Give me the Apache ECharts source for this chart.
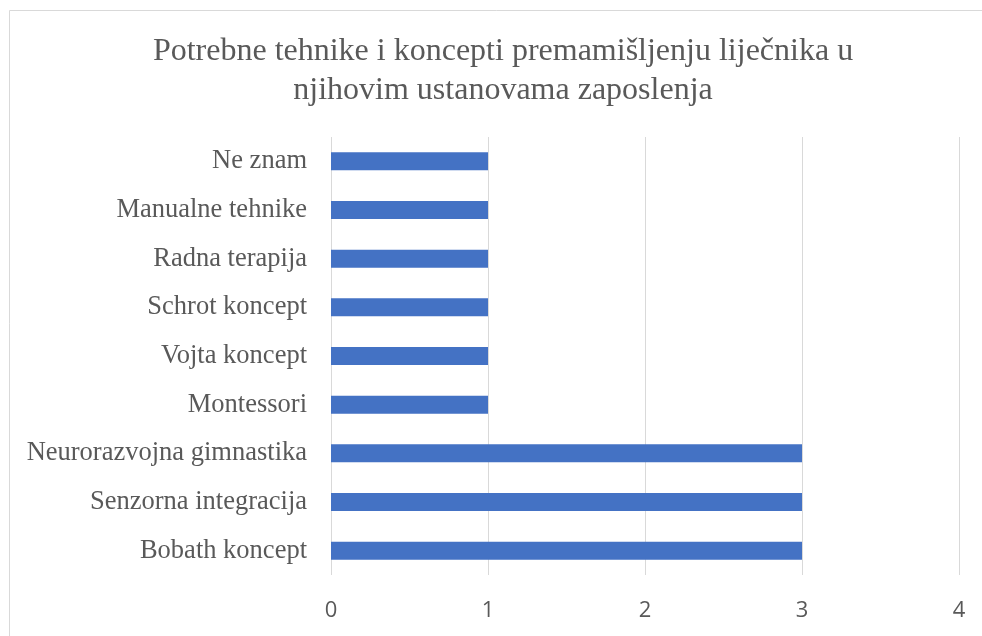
<!DOCTYPE html>
<html>
<head>
<meta charset="UTF-8">
<title></title>
<script src="https://cdn.jsdelivr.net/npm/echarts@6/dist/echarts.min.js"></script>
<style>
html, body { margin: 0; padding: 0; background: #fff; }
#main { width: 982px; height: 636px; }
</style>
</head>
<body>
<div id="main"></div>
<script>
// podaci (odozdo prema gore)
var categories = ['Bobath koncept', 'Senzorna integracija', 'Neurorazvojna gimnastika',
	'Montessori', 'Vojta koncept', 'Schrot koncept', 'Radna terapija',
	'Manualne tehnike', 'Ne znam'];
var values = [3, 3, 3, 1, 1, 1, 1, 1, 1];
var xTicks = [0, 1, 2, 3, 4];

var myChart = echarts.init(document.getElementById('main'));
var option = {
	backgroundColor: '#fff',
	animation: false,
	title: {
		text: 'Potrebne tehnike i koncepti premamišljenju liječnika u\nnjihovim ustanovama zaposlenja',
		left: 498,
		top: 27,
		textAlign: 'center',
		textStyle: {
			fontFamily: 'Liberation Serif',
			fontSize: 32,
			fontWeight: 'normal',
			color: '#595959',
			lineHeight: 39
		}
	},
	graphic: [{
		type: 'rect',
		shape: { x: 9.5, y: 10.5, width: 1000, height: 700 },
		style: { fill: 'none', stroke: '#d9d9d9', lineWidth: 1 },
		silent: true
	}],
	grid: { left: 331, right: 23, top: 137, bottom: 61 },
	xAxis: {
		type: 'value',
		min: xTicks[0],
		max: xTicks[xTicks.length - 1],
		interval: 1,
		axisLine: { show: false },
		axisTick: { show: false },
		axisLabel: {
			margin: 25,
			fontFamily: 'Open Sans',
			fontSize: 22,
			color: '#595959'
		},
		splitLine: { lineStyle: { color: '#d9d9d9', width: 1 } }
	},
	yAxis: {
		type: 'category',
		data: categories,
		axisLine: { show: false },
		axisTick: { show: false },
		axisLabel: {
			margin: 24,
			fontFamily: 'Liberation Serif',
			fontSize: 26.5,
			color: '#595959'
		}
	},
	series: [{
		type: 'bar',
		data: values,
		barWidth: 18,
		itemStyle: { color: '#4472C4' }
	}]
};
myChart.setOption(option);
</script>
</body>
</html>
